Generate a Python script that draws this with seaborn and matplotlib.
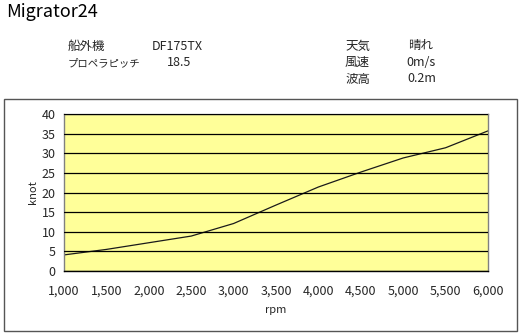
import matplotlib
matplotlib.use("Agg")
import matplotlib.pyplot as plt
import seaborn as sns
import pandas as pd
from matplotlib.patches import Rectangle

rpm = [1000, 1500, 2000, 2500, 3000, 3500, 4000, 4500, 5000, 5500, 6000]
knot = [4.1, 5.5, 7.2, 8.9, 12.1, 16.8, 21.4, 25.2, 28.8, 31.4, 35.7]
x_ticks = [1000, 1500, 2000, 2500, 3000, 3500, 4000, 4500, 5000, 5500, 6000]
y_ticks = [0, 5, 10, 15, 20, 25, 30, 35, 40]
title = "Migrator24"
info_left = [("船外機", "DF175TX"), ("プロペラピッチ", "18.5")]
info_right = [("天気", "晴れ"), ("風速", "0m/s"), ("波高", "0.2m")]

df = pd.DataFrame({"rpm": rpm, "knot": knot})

sns.set_style("white")
plt.rcParams["font.family"] = ["Noto Sans CJK JP", "DejaVu Sans"]

W, H = 520, 335
fig = plt.figure(figsize=(W / 100, H / 100), dpi=100)
fig.patch.set_facecolor("white")

def fx(px):
    return px / W

def fy(py):
    return 1 - py / H

# outer chart border
fig.patches.append(Rectangle((fx(4), fy(331)), fx(513), (331 - 99) / H,
                             transform=fig.transFigure, fill=False,
                             edgecolor="#555555", linewidth=1.0))

fig.text(fx(6), fy(12), title, fontsize=13, va="center", ha="left", color="black")
left_val_x = [152, 167]
left_key_size = [9, 7.5]
for i, (k, v) in enumerate(info_left):
    y = fy(46 + i * 17)
    fig.text(fx(68), y, k, fontsize=left_key_size[i], va="center", ha="left")
    fig.text(fx(left_val_x[i]), y, v, fontsize=9, va="center", ha="left")
right_val_x = [408, 406, 407]
for i, (k, v) in enumerate(info_right):
    y = fy(46 + i * 16.5)
    fig.text(fx(345), y, k, fontsize=9, va="center", ha="left")
    fig.text(fx(right_val_x[i]), y, v, fontsize=9, va="center", ha="left")

ax = fig.add_axes([fx(64), fy(271), (488 - 64) / W, (271 - 114) / H])
ax.set_facecolor("#FFFF99")
sns.lineplot(data=df, x="rpm", y="knot", ax=ax, color="#1a1a1a", linewidth=0.9)
ax.set_xlim(1000, 6000)
ax.set_ylim(0, 40)
ax.set_xticks(x_ticks)
ax.set_xticklabels([f"{t:,}" for t in x_ticks], fontsize=9)
ax.set_yticks(y_ticks)
ax.set_yticklabels([str(t) for t in y_ticks], fontsize=9)
ax.yaxis.grid(True, color="black", linewidth=0.9)
ax.xaxis.grid(False)
ax.set_axisbelow(False)
for s in ax.spines.values():
    s.set_color("#808080")
    s.set_linewidth(1.0)
ax.spines["bottom"].set_color("black")
ax.tick_params(axis="x", direction="out", length=4, width=0.8, color="black", pad=6)
ax.tick_params(axis="y", length=0, pad=6)
ax.set_xlabel("rpm", fontsize=8, labelpad=5)
ax.set_ylabel("knot", fontsize=8, labelpad=3)

fig.savefig("out.png", dpi=100)
